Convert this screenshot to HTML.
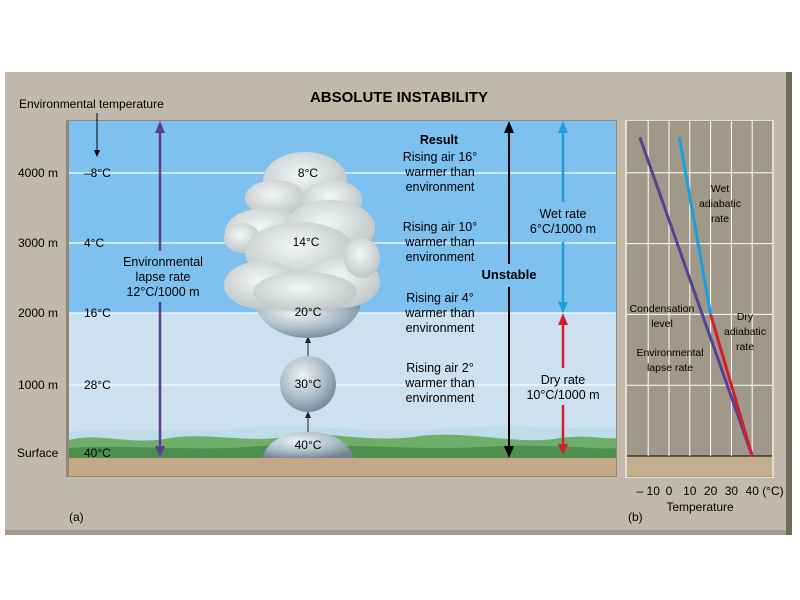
<!DOCTYPE html>
<html><head><meta charset="utf-8"><style>
html,body{margin:0;padding:0;background:#fff;}
svg{display:block;font-family:"Liberation Sans",sans-serif;}
</style></head><body>
<svg id="fig" width="800" height="600" viewBox="0 0 800 600">
<defs>
<radialGradient id="sph" cx="40%" cy="35%" r="70%"><stop offset="0" stop-color="#eef3f6"/><stop offset="0.6" stop-color="#a9bac6"/><stop offset="1" stop-color="#6f8494"/></radialGradient>
<radialGradient id="cl" cx="45%" cy="40%" r="60%"><stop offset="0" stop-color="#f4f6f6"/><stop offset="1" stop-color="#bfc7c7"/></radialGradient>
</defs>
<rect x="0" y="0" width="800" height="600" fill="#fff"/>
<rect x="5" y="72" width="787" height="463" fill="#a39b8b"/>
<rect x="5" y="72" width="783" height="458" fill="#c1b9ab"/>
<rect x="786" y="72" width="6" height="463" fill="#6e6b5b"/>
<text x="399" y="102" font-size="15" font-weight="bold" text-anchor="middle">ABSOLUTE INSTABILITY</text>
<text x="19" y="108" font-size="12">Environmental temperature</text>

<g>
<rect x="66" y="120" width="551" height="357" fill="#8f8878"/>
<rect x="69" y="121" width="547" height="192" fill="#7fc1ee"/>
<rect x="69" y="313" width="547" height="146" fill="#cde0f0"/>
<path d="M69,432 C120,425 180,435 240,428 C300,422 380,435 450,428 C520,424 580,430 616,428 L616,460 L69,460 Z" fill="#bfdde9"/>
<path d="M69,440 C100,432 130,446 170,438 C210,432 250,444 290,436 C330,430 370,444 420,436 C470,430 520,446 560,438 C590,434 605,440 616,438 L616,460 L69,460 Z" fill="#6fae6a"/>
<path d="M69,448 C120,444 200,452 260,446 C340,442 420,452 500,446 C560,444 600,450 616,448 L616,460 L69,460 Z" fill="#4e8f4f"/>
<rect x="69" y="458" width="547" height="18" fill="#c4a888"/>
<g stroke="#fff" stroke-width="1.2" opacity="0.9">
<line x1="69" y1="173" x2="616" y2="173"/><line x1="69" y1="243" x2="616" y2="243"/>
<line x1="69" y1="313" x2="616" y2="313"/><line x1="69" y1="385" x2="616" y2="385"/>
</g>
</g>
<g>
<line x1="97" y1="113" x2="97" y2="151" stroke="#000" stroke-width="1"/><path d="M94,150 L97,157 L100,150 Z" fill="#000"/>
</g>
<g font-size="12">
<text x="18" y="177">4000 m</text><text x="18" y="247">3000 m</text><text x="18" y="317">2000 m</text><text x="18" y="389">1000 m</text><text x="17" y="457">Surface</text>
</g>
<g font-size="12">
<text x="84" y="177">–8°C</text><text x="84" y="247">4°C</text><text x="84" y="317">16°C</text><text x="84" y="389">28°C</text><text x="84" y="457">40°C</text>
</g>
<g>
<line x1="160" y1="128" x2="160" y2="251" stroke="#5b3f95" stroke-width="2.5"/>
<line x1="160" y1="302" x2="160" y2="450" stroke="#5b3f95" stroke-width="2.5"/>
<path d="M155,133 L160,121 L165,133 Z" fill="#5b3f95"/><path d="M155,446 L160,458 L165,446 Z" fill="#5b3f95"/>
<text x="163" y="266" font-size="12.5" text-anchor="middle">Environmental</text>
<text x="163" y="281" font-size="12.5" text-anchor="middle">lapse rate</text>
<text x="163" y="296" font-size="12.5" text-anchor="middle">12°C/1000 m</text>
</g>
<g>
<path d="M262,458 C268,440 285,432 308,432 C331,432 348,440 354,458 Z" fill="url(#sph)"/>
<text x="308" y="449" font-size="12" text-anchor="middle">40°C</text>
<line x1="308" y1="432" x2="308" y2="416" stroke="#222"/><path d="M305,418 L308,411 L311,418 Z" fill="#222"/>
<circle cx="308" cy="384" r="28" fill="url(#sph)"/>
<text x="308" y="388" font-size="12" text-anchor="middle">30°C</text>
<line x1="308" y1="356" x2="308" y2="340" stroke="#222"/><path d="M305,343 L308,336 L311,343 Z" fill="#222"/>
<path d="M255,300 A53,38 0 0 0 361,300 Z" fill="url(#sph)"/>
</g>
<g fill="url(#cl)">
<ellipse cx="305" cy="180" rx="42" ry="28"/><ellipse cx="275" cy="198" rx="30" ry="18"/><ellipse cx="332" cy="200" rx="30" ry="20"/>
<ellipse cx="265" cy="232" rx="40" ry="24"/><ellipse cx="330" cy="228" rx="45" ry="28"/><ellipse cx="242" cy="238" rx="18" ry="15"/>
<ellipse cx="300" cy="252" rx="55" ry="30"/><ellipse cx="262" cy="285" rx="38" ry="24"/><ellipse cx="342" cy="282" rx="38" ry="26"/>
<ellipse cx="305" cy="292" rx="52" ry="20"/><ellipse cx="362" cy="258" rx="18" ry="20"/>
</g>
<g font-size="12" text-anchor="middle">
<text x="308" y="177">8°C</text><text x="306" y="246">14°C</text><text x="308" y="316">20°C</text>
</g>
<g font-size="12.5" text-anchor="middle">
<text x="439" y="144" font-weight="bold">Result</text>
<text x="440" y="161">Rising air 16°</text><text x="440" y="176">warmer than</text><text x="440" y="191">environment</text>
<text x="440" y="231">Rising air 10°</text><text x="440" y="246">warmer than</text><text x="440" y="261">environment</text>
<text x="440" y="302">Rising air 4°</text><text x="440" y="317">warmer than</text><text x="440" y="332">environment</text>
<text x="440" y="372">Rising air 2°</text><text x="440" y="387">warmer than</text><text x="440" y="402">environment</text>
</g>
<g>
<line x1="509" y1="128" x2="509" y2="264" stroke="#000" stroke-width="2"/>
<line x1="509" y1="287" x2="509" y2="450" stroke="#000" stroke-width="2"/>
<path d="M504,133 L509,121 L514,133 Z"/><path d="M504,446 L509,458 L514,446 Z"/>
<text x="509" y="279" font-size="13" font-weight="bold" text-anchor="middle">Unstable</text>
</g>
<g>
<line x1="563" y1="128" x2="563" y2="202" stroke="#1a9ee0" stroke-width="2.5"/>
<line x1="563" y1="242" x2="563" y2="306" stroke="#1a9ee0" stroke-width="2.5"/>
<path d="M558,133 L563,121 L568,133 Z" fill="#1a9ee0"/><path d="M558,302 L563,313 L568,302 Z" fill="#1a9ee0"/>
<text x="563" y="218" font-size="12.5" text-anchor="middle">Wet rate</text>
<text x="563" y="233" font-size="12.5" text-anchor="middle">6°C/1000 m</text>
</g>
<g>
<line x1="563" y1="320" x2="563" y2="368" stroke="#d0202a" stroke-width="2.5"/>
<line x1="563" y1="405" x2="563" y2="450" stroke="#d0202a" stroke-width="2.5"/>
<path d="M558,325 L563,313 L568,325 Z" fill="#d0202a"/><path d="M558,444 L563,455 L568,444 Z" fill="#d0202a"/>
<text x="563" y="384" font-size="12.5" text-anchor="middle">Dry rate</text>
<text x="563" y="399" font-size="12.5" text-anchor="middle">10°C/1000 m</text>
</g>
<text x="69" y="521" font-size="12">(a)</text>

<g id="pb">
<rect x="625" y="120" width="149" height="358" fill="#e4ded2"/>
<rect x="627" y="121" width="145" height="356" fill="#a09888"/>
<rect x="627" y="456" width="145" height="20" fill="#c4ae8e"/>
<line x1="627" y1="456" x2="772" y2="456" stroke="#000" stroke-width="1"/>
</g>
<g id="pbText" font-size="10.5" text-anchor="middle">
<text x="720" y="192">Wet</text><text x="720" y="207">adiabatic</text><text x="720" y="222">rate</text>
<text x="662" y="312">Condensation</text><text x="662" y="327">level</text>
<text x="745" y="320">Dry</text><text x="745" y="335">adiabatic</text><text x="745" y="350">rate</text>
<text x="670" y="356">Environmental</text><text x="670" y="371">lapse rate</text>
</g>
<text x="700" y="511" font-size="12" text-anchor="middle">Temperature</text>
<text x="628" y="521" font-size="12">(b)</text>
</svg>
<script>
const tempTicks = [-10, 0, 10, 20, 30, 40];
const altTicks = [1000, 2000, 3000, 4000];
const envAlt = [0, 4500];
const envTemp = [40, -14];
const dryAlt = [0, 2000];
const dryTemp = [40, 20];
const wetAlt = [2000, 4500];
const wetTemp = [20, 5];
const NS = "http://www.w3.org/2000/svg";
const fig = document.getElementById("fig");
const pbText = document.getElementById("pbText");
function xS(t){ return 669 + t * 2.08; }
function yS(a){ return 456 - a * 0.0708; }
function mk(tag, attrs){ const e = document.createElementNS(NS, tag); for (const k in attrs) e.setAttribute(k, attrs[k]); fig.insertBefore(e, pbText); return e; }
tempTicks.forEach(t => {
  const l = mk("line", {x1: xS(t), x2: xS(t), y1: 121, y2: 456, stroke: "#fff", "stroke-width": 1});
  
  
  const tx = mk("text", {x: xS(t), y: 495, "font-size": 12, "text-anchor": "middle"});
  tx.textContent = t < 0 ? "– " + Math.abs(t) : String(t);
  
  
});
const unit = mk("text", {x: xS(40) + 10, y: 495, "font-size": 12});
unit.textContent = "(°C)";


altTicks.forEach(a => {
  const l = mk("line", {x1: 627, x2: 772, y1: yS(a), y2: yS(a), stroke: "#fff", "stroke-width": 1});
  
  
});
function series(alts, temps, color, name){
  const p = mk("polyline", {points: alts.map((a,i)=>xS(temps[i])+","+yS(a)).join(" "), fill: "none", stroke: color, "stroke-width": 3});
  
  
}
series(envAlt, envTemp, "#5b3f95", "environmental-lapse-line");
series(dryAlt, dryTemp, "#d0202a", "dry-adiabatic-line");
series(wetAlt, wetTemp, "#1a9ee0", "wet-adiabatic-line");
</script>
</body></html>
